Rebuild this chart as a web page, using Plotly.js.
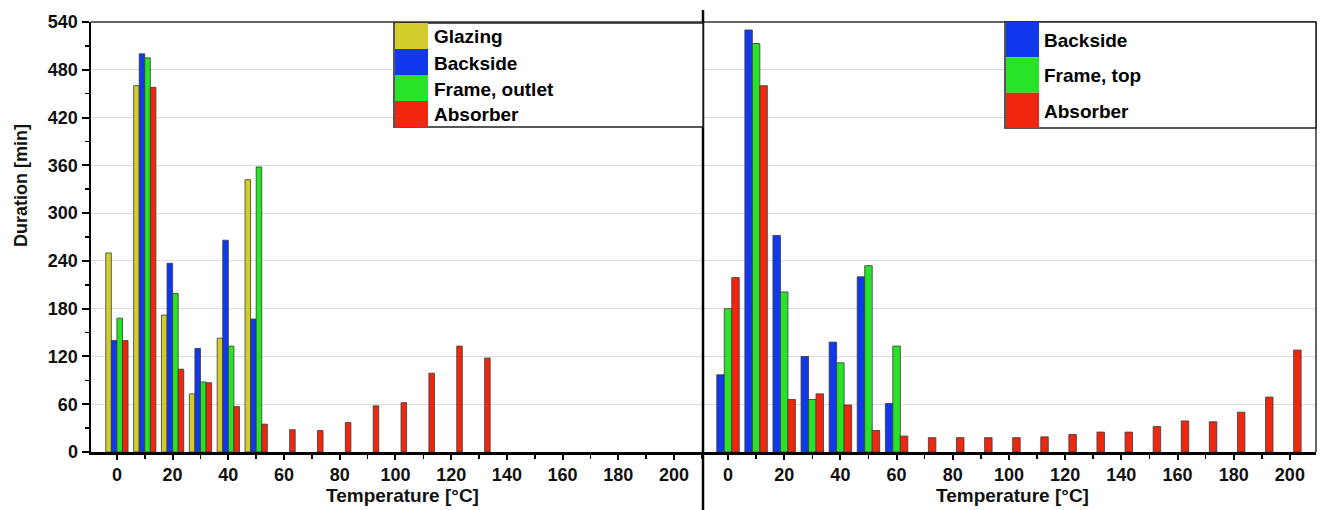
<!DOCTYPE html>
<html>
<head>
<meta charset="utf-8">
<script src="https://cdn.plot.ly/plotly-3.0.1.min.js"></script>
<style>html,body{margin:0;padding:0;background:#fff;}#chart{width:1321px;height:510px;}</style>
</head>
<body>
<div id="chart"></div>
<script>
// ---- Data ----
const temps = [0,10,20,30,40,50,60,70,80,90,100,110,120,130,140,150,160,170,180,190,200];
const xTicks = [0,20,40,60,80,100,120,140,160,180,200];
const yTicks = [0,60,120,180,240,300,360,420,480,540];

// Left panel
const leftNames = ["Glazing","Backside","Frame, outlet","Absorber"];
const glazing      = [250,460,172,73,143,342];
const backsideL    = [140,500,237,130,266,167];
const frameOutlet  = [168,495,199,88,133,358];
const absorberL    = [140,458,104,87,57,35,28,27,37,58,62,99,133,118];

// Right panel
const rightNames = ["Backside","Frame, top","Absorber"];
const backsideR    = [97,530,272,120,138,220,61];
const frameTop     = [180,513,201,66,112,234,133];
const absorberR    = [219,460,66,73,59,27,20,18,18,18,18,19,22,25,25,32,39,38,50,69,128];

// ---- Style ----
const C = {yellow:'#d3cd2c', blue:'#1238ee', green:'#28e428', red:'#f0260e'};
const FONT = 'Liberation Sans, Arial, Helvetica, sans-serif';
const leftColors = [C.yellow, C.blue, C.green, C.red];
const rightColors = [C.blue, C.green, C.red];

function pad(arr){ return temps.map((t,i)=> i < arr.length ? arr[i] : null); }

const leftSeries = [glazing, backsideL, frameOutlet, absorberL];
const rightSeries = [backsideR, frameTop, absorberR];

const traces = [];
leftSeries.forEach((s,i)=>{
  traces.push({type:'bar', x:temps, y:pad(s), name:leftNames[i], xaxis:'x', yaxis:'y',
    marker:{color:leftColors[i], line:{color:'#3a3a3a', width:0.8}}, showlegend:false, hoverinfo:'x+y+name'});
});
rightSeries.forEach((s,i)=>{
  traces.push({type:'bar', x:temps, y:pad(s), name:rightNames[i], xaxis:'x2', yaxis:'y2',
    marker:{color:rightColors[i], line:{color:'#3a3a3a', width:0.8}}, showlegend:false, hoverinfo:'x+y+name'});
});

// geometry (paper coords)
const L = 91, R = 5, T = 22, B = 58, W = 1321, H = 510;
const pw = W - L - R, ph = H - T - B;
const px = v => (v - L) / pw;           // pixel x -> paper x
const py = v => (H - B - v) / ph;       // pixel y -> paper y
const split = px(703);

const tickFont = {family:FONT, size:18, color:'#111', weight:'bold'};

const xBase = {
  tickvals:xTicks, ticktext:xTicks.map(String), tickfont:tickFont,
  ticks:'outside', ticklen:5, tickwidth:2, tickcolor:'#000',
  minor:{dtick:10, tick0:0, ticks:'outside', ticklen:4, tickwidth:1.5, tickcolor:'#000', showgrid:false},
  showline:true, linecolor:'#000', linewidth:2.5, showgrid:false, zeroline:false, fixedrange:true
};
const yBase = {
  range:[0,540], tickvals:yTicks, showgrid:true, gridcolor:'#dcdcdc', gridwidth:1, zeroline:false, fixedrange:true
};

const shapes = [];
const annotations = [];

// frame lines
shapes.push({type:'line', xref:'paper', yref:'paper', x0:0, x1:1, y0:1, y1:1, line:{color:'#333', width:1.5}});
shapes.push({type:'line', xref:'paper', yref:'paper', x0:1, x1:1, y0:0, y1:1, line:{color:'#333', width:1.5}});
// divider
shapes.push({type:'line', xref:'paper', yref:'paper', x0:split, x1:split, y0:py(510), y1:py(10), line:{color:'#000', width:2.5}});

// manual legends
function legend(names, colors, bx0, bx1, by0, by1, swW, textX){
  const rowH = (by1 - by0) / names.length;
  shapes.push({type:'rect', xref:'paper', yref:'paper', x0:px(bx0), x1:px(bx1), y0:py(by1), y1:py(by0),
    fillcolor:'#fff', line:{color:'#222', width:1.5}, layer:'above'});
  names.forEach((n,i)=>{
    const ry0 = by0 + rowH*i, ry1 = by0 + rowH*(i+1);
    shapes.push({type:'rect', xref:'paper', yref:'paper', x0:px(bx0+1), x1:px(bx0+swW), y0:py(ry1), y1:py(ry0),
      fillcolor:colors[i], line:{width:0}, layer:'above'});
    annotations.push({xref:'paper', yref:'paper', x:px(textX), y:py((ry0+ry1)/2 + 1), text:n, showarrow:false,
      xanchor:'left', yanchor:'middle', font:{family:FONT, size:19, color:'#000', weight:'bold'}});
  });
}
legend(leftNames, leftColors, 394, 703, 23, 127, 34, 432);
legend(rightNames, rightColors, 1005, 1316, 22, 128, 34, 1042);

// axis titles
annotations.push({xref:'paper', yref:'paper', x:px(21), y:py(186), text:'Duration [min]', textangle:-90, showarrow:false,
  xanchor:'center', yanchor:'middle', font:{family:FONT, size:18, color:'#111', weight:'bold'}});
annotations.push({xref:'paper', yref:'paper', x:px(402), y:py(496), text:'Temperature [°C]', showarrow:false,
  xanchor:'center', yanchor:'middle', font:{family:FONT, size:19, color:'#111', weight:'bold'}});
annotations.push({xref:'paper', yref:'paper', x:px(1012), y:py(496), text:'Temperature [°C]', showarrow:false,
  xanchor:'center', yanchor:'middle', font:{family:FONT, size:19, color:'#111', weight:'bold'}});

const layout = {
  width:W, height:H,
  margin:{l:L, r:R, t:T, b:B, pad:0},
  paper_bgcolor:'#fff', plot_bgcolor:'#fff',
  barmode:'group', bargap:0.2, bargroupgap:0,
  showlegend:false,
  xaxis:Object.assign({}, xBase, {domain:[0, split], range:[-9.3, 210.4], anchor:'y'}),
  xaxis2:Object.assign({}, xBase, {domain:[split, 1], range:[-8.9, 209.3], anchor:'y2'}),
  yaxis:Object.assign({}, yBase, {anchor:'x', ticktext:yTicks.map(String), tickfont:tickFont,
    ticks:'outside', ticklen:7, tickwidth:2, tickcolor:'#000',
    minor:{dtick:30, tick0:0, ticks:'outside', ticklen:4, tickwidth:1.5, tickcolor:'#000', showgrid:false},
    showline:true, linecolor:'#000', linewidth:2.5}),
  yaxis2:Object.assign({}, yBase, {anchor:'x2', showticklabels:false, ticks:'', showline:false}),
  shapes:shapes,
  annotations:annotations
};

Plotly.newPlot('chart', traces, layout, {staticPlot:true, displayModeBar:false});
</script>
</body>
</html>
